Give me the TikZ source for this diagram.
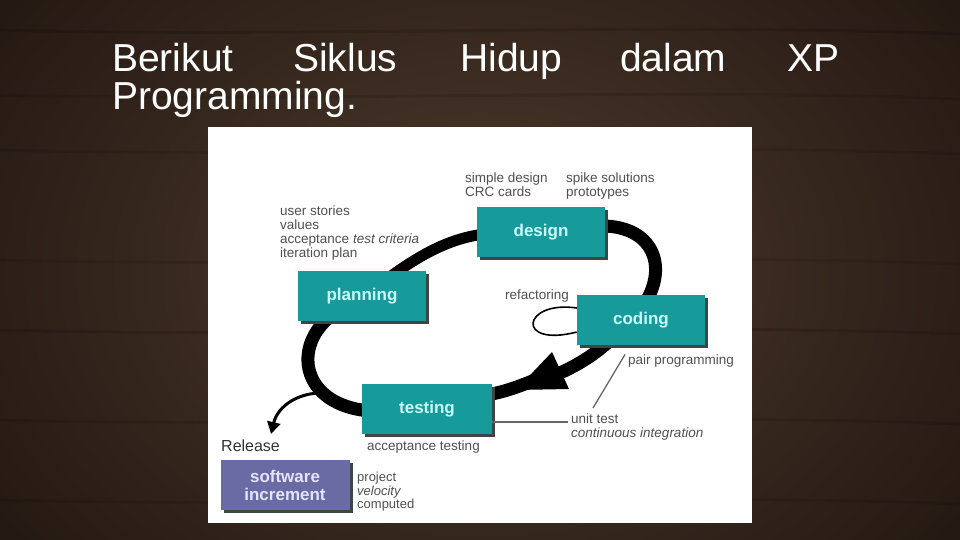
\documentclass[tikz,border=0pt]{standalone}
\usepackage{fontspec}
\setmainfont{Liberation Sans}
\usetikzlibrary{arrows.meta,shadows}
\definecolor{woodc}{HTML}{3A2A20}
\definecolor{wooddark}{HTML}{1E140F}
\definecolor{woodlight}{HTML}{4E3A2C}
\definecolor{tealc}{HTML}{179A9A}
\definecolor{labelc}{HTML}{C8FAFF}
\definecolor{shadowc}{HTML}{3C4646}
\definecolor{purplec}{HTML}{6A6AA4}
\definecolor{purplelabel}{HTML}{E4E4FF}
\definecolor{notec}{HTML}{505050}
\pgfdeclarelayer{bg}
\pgfsetlayers{bg,main}
\begin{document}
\begin{tikzpicture}[x=1pt,y=-1pt,
  title/.style={anchor=base west,inner sep=0pt,text=white,font=\fontsize{39}{39}\selectfont},
  box/.style={fill=tealc,minimum width=128pt,minimum height=50pt,inner sep=0pt,
    text=labelc,font=\fontsize{17}{18}\selectfont\bfseries,align=center,
    drop shadow={shadow xshift=3pt,shadow yshift=-3pt,fill=shadowc,opacity=1}},
  note/.style={anchor=north west,inner sep=0pt,text=notec,align=left,font=\fontsize{13.5}{14}\selectfont},
  cyclepath/.style={line width=13pt,draw=black},
  thin/.style={draw=gray!80!black,line width=1.3pt}
]
\useasboundingbox (0,0) rectangle (960,540);
% boxes (main layer)
\node[box] (design) at (541,232) {design};
\node[box] (planning) at (362,296) {planning};
\node[box] (coding) at (641,320) {coding};
\node[box,minimum width=130pt] (testing) at (427,409) {testing};
\node[box,fill=purplec,text=purplelabel,minimum width=129pt] (soft) at (285,485) {software\\increment};
\begin{pgfonlayer}{bg}
% background
\fill[wooddark] (0,0) rectangle (960,540);
\shade[inner color=woodlight,outer color=wooddark] (-200,-250) rectangle (1160,790);
\foreach \yy/\op in {30/0.15,95/0.1,150/0.12,260/0.1,330/0.15,420/0.12,500/0.1}{
  \draw[black,opacity=\op,line width=3pt] (0,\yy) .. controls (300,\yy+8) and (650,\yy-8) .. (960,\yy+4);
}
% white panel
\fill[white] (208,127) rectangle (752,523);
% cycle
\draw[cyclepath] ([shift={(-8,-6)}]design.east) .. controls (650,224) and (668,262) .. ([shift={(6,5)}]coding.north);
\draw[cyclepath] ([shift={(-30,-6)}]coding.south) .. controls (590,360) and (560,375) .. (535,382);
\draw[cyclepath] (540,378) .. controls (520,386) and (505,392) .. ([shift={(-6,-14)}]testing.east);
\draw[cyclepath] ([shift={(8,2)}]testing.west) .. controls (300,405) and (292,345) .. ([shift={(-30,-6)}]planning.south);
\draw[line width=11pt] ([shift={(28,6)}]planning.north) .. controls (420,255) and (450,238) .. ([shift={(8,2)}]design.west);
\end{pgfonlayer}
% title
\node[title] (t1) at (112,72) {Berikut};
\node[title] (t2) at (293,72) {Siklus};
\node[title] (t3) at (460,72) {Hidup};
\node[title] (t4) at (620,72) {dalam};
\node[title] (t5) at (787,72) {XP};
\node[title] (t6) at (112,110) {Programming.};
% arrowhead of the cycle
\coordinate (tip) at (516,390);
\coordinate (wingA) at (552,352);
\coordinate (wingB) at (569,389);
\fill[black] (tip) -- (wingA) -- (wingB) -- cycle;
% release arrow
\coordinate (relstart) at (324,393);
\draw[line width=3pt,-{Triangle[length=12pt,width=13pt]}] (relstart) .. controls (300,392) and (278,405) .. (271,434);
% refactoring loop
\draw[line width=1.6pt] ([yshift=12]coding.west) .. controls (522,300) and (515,348) .. ([yshift=-12]coding.west);
% notes
\node[note] (sd) at (465,173) {simple design\\CRC cards};
\node[note] (sp) at (566,173) {spike solutions\\prototypes};
\node[note] (us) at (280,206) {user stories\\values\\acceptance \textit{test criteria}\\iteration plan};
\node[note] (ref) at (505,290) {refactoring};
\node[note] (pp) at (628,355) {pair programming};
\node[note] (ut) at (571,414) {unit test\\\textit{continuous integration}};
\node[note] (at) at (367,441) {acceptance testing};
\node[note,text=black!80,font=\fontsize{16}{16}\selectfont] (rel) at (221,440) {Release};
\node[note,font=\fontsize{13}{13.5}\selectfont] (pv) at (357,472) {project\\\textit{velocity}\\computed};
% leader lines
\draw[thin] ([xshift=-3,yshift=7]pp.west) -- ([xshift=22,yshift=6]ut.north west);
\draw[thin] ([yshift=-13]testing.east) -- ([xshift=-3,yshift=-8]ut.north west);
\end{tikzpicture}
\end{document}
